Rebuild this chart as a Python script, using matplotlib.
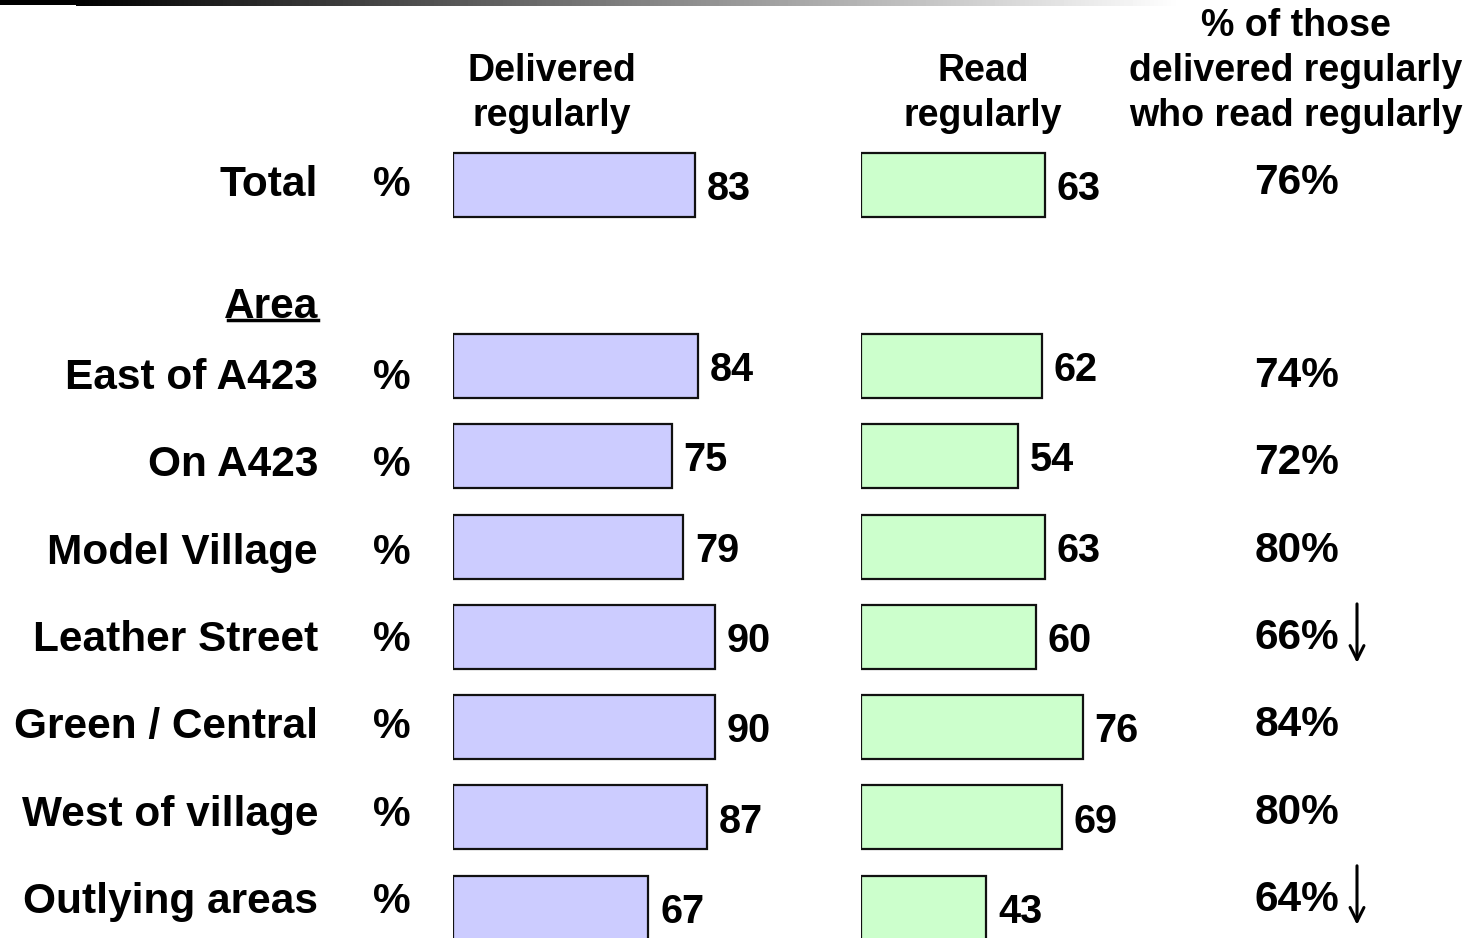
import numpy as np
import matplotlib
matplotlib.use('Agg')
import matplotlib.pyplot as plt

# data
categories = ['Total', 'East of A423', 'On A423', 'Model Village', 'Leather Street',
              'Green / Central', 'West of village', 'Outlying areas']
delivered = [83, 84, 75, 79, 90, 90, 87, 67]
read = [63, 62, 54, 63, 60, 76, 69, 43]
read_of_delivered = [76, 74, 72, 80, 66, 84, 80, 64]
down_flag = [False, False, False, False, True, False, False, True]

plt.rcParams['font.family'] = ['Liberation Sans', 'DejaVu Sans']
plt.rcParams['font.weight'] = 'bold'

W, H = 1472, 938
fig = plt.figure(figsize=(W / 100, H / 100), dpi=100)
fig.patch.set_facecolor('white')

# main axes works in pixel units
ax = fig.add_axes([0, 0, 1, 1])
ax.set_xlim(0, W)
ax.set_ylim(H, 0)
ax.axis('off')

# bar centres and text rows (pixel positions)
bar_y = [185] + [366 + 90.3 * i for i in range(7)]
text_y = [181] + [374 + 87.3 * i for i in range(7)]
val_y = [186] + [367 + 90.3 * i for i in range(7)]


def half_cap(size):
    return size * 100 / 72 * 0.716 / 2


fs = 30.5   # row labels, % and ratio column
vfs = 28.5  # bar values
hfs = 27    # headers

# top gradient strip
grad = np.linspace(0, 1, 256).reshape(1, -1)
ax.imshow(grad, cmap='gray', aspect='auto', extent=(76, 1180, 6, 0), zorder=1)
ax.fill_between([0, 76], 0, 5, color='black', lw=0, zorder=2)
ax.set_xlim(0, W)
ax.set_ylim(H, 0)

# headers
for y, s in zip([68, 113], ['Delivered', 'regularly']):
    ax.text(552, y + half_cap(hfs), s, ha='center', va='baseline', fontsize=hfs)
for y, s in zip([68, 113], ['Read', 'regularly']):
    ax.text(983, y + half_cap(hfs), s, ha='center', va='baseline', fontsize=hfs)
for y, s in zip([23, 68, 113], ['% of those', 'delivered regularly', 'who read regularly']):
    ax.text(1296, y + half_cap(hfs), s, ha='center', va='baseline', fontsize=hfs)

# row labels, % column, ratio column
for i, cat in enumerate(categories):
    ax.text(318, text_y[i] + half_cap(fs), cat, ha='right', va='baseline', fontsize=fs)
    ax.text(392, text_y[i] + half_cap(fs), '%', ha='center', va='baseline', fontsize=fs)
    ax.text(1297, text_y[i] - 2 + half_cap(fs), f'{read_of_delivered[i]}%', ha='center',
            va='baseline', fontsize=fs)
    if down_flag[i]:
        ty = text_y[i] - 2
        ax.annotate('', xy=(1357, ty + 29), xytext=(1357, ty - 30),
                    arrowprops=dict(arrowstyle='->,head_length=1.0,head_width=0.5',
                                    lw=2.2, color='black', shrinkA=0, shrinkB=0))

ax.text(318, 303 + half_cap(fs), 'Area', ha='right', va='baseline', fontsize=fs)
ax.plot([228, 318], [320, 320], color='black', lw=2.5)

# bar panels, 2.916 px per percentage point
px = 2.916
for left, vals, col in [(453, delivered, '#ccccff'), (861, read, '#ccffcc')]:
    bax = fig.add_axes([left / W, 0, 100 * px / W, 1])
    bax.set_xlim(0, 100)
    bax.set_ylim(H, 0)
    bax.axis('off')
    bax.patch.set_alpha(0)
    bax.barh(bar_y, vals, height=64, color=col, edgecolor='#111111', lw=1.6)
    for y, v in zip(val_y, vals):
        bax.text(v + 4, y + half_cap(vfs), str(v), ha='left', va='baseline',
                 fontsize=vfs, clip_on=False)

fig.savefig('out.png', dpi=100)
